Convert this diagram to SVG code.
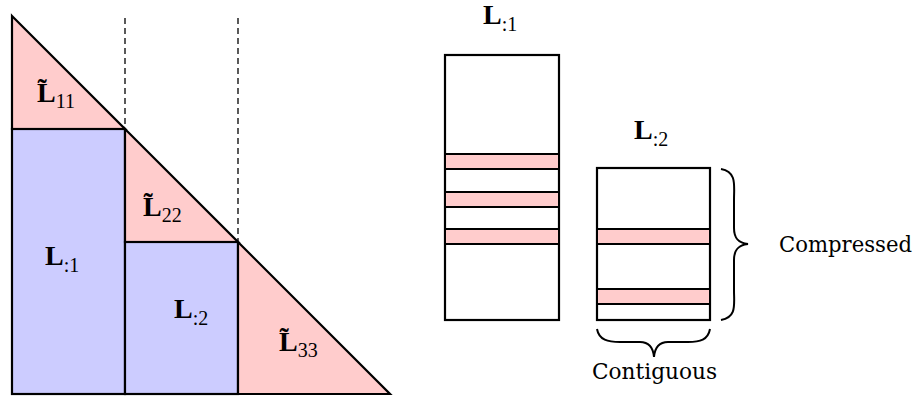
<svg xmlns="http://www.w3.org/2000/svg" width="919" height="398" viewBox="0 0 919 398">
<style>
.pk{fill:#ffcccc;stroke:#000;stroke-width:2.2;stroke-linejoin:miter}
.bl{fill:#ccccff;stroke:#000;stroke-width:2.2}
.wh{fill:#fff;stroke:#000;stroke-width:2.2}
.band{fill:#ffcccc;stroke:#000;stroke-width:2}
.dash{stroke:#000;stroke-width:1.3;stroke-dasharray:6,4;fill:none}
.brace{fill:none;stroke:#000;stroke-width:2}
.m{font-family:"Liberation Serif","DejaVu Serif",serif;font-weight:bold;font-size:28px;fill:#000}
.s{font-family:"Liberation Serif","DejaVu Serif",serif;font-size:20px;font-weight:normal}
.t{font-family:"DejaVu Serif","Liberation Serif",serif;font-size:22px;fill:#000}
</style>
<g id="guides">
<line class="dash" x1="125" y1="18" x2="125" y2="129"/>
<line class="dash" x1="238" y1="18" x2="238" y2="242"/>
</g>
<g id="triangle">
<polygon class="pk" points="12,16 125,129 12,129"/>
<rect class="bl" x="12" y="129" width="113" height="265"/>
<polygon class="pk" points="125,129 238,242 125,242"/>
<rect class="bl" x="125" y="242" width="113" height="152"/>
<polygon class="pk" points="238,242 390,394 238,394"/>
<text class="m" x="37" y="102">L̃<tspan class="s" dy="6">11</tspan></text>
<text class="m" x="143" y="216">L̃<tspan class="s" dy="6">22</tspan></text>
<text class="m" x="279" y="351">L̃<tspan class="s" dy="6">33</tspan></text>
<text class="m" x="45" y="265">L<tspan class="s" dy="7">:1</tspan></text>
<text class="m" x="174" y="318">L<tspan class="s" dy="7">:2</tspan></text>
</g>
<g id="col1">
<text class="m" x="483" y="24">L<tspan class="s" dy="7">:1</tspan></text>
<rect class="wh" x="445" y="55" width="114" height="265"/>
<rect class="band" x="445" y="154" width="114" height="15"/>
<rect class="band" x="445" y="192" width="114" height="15"/>
<rect class="band" x="445" y="229" width="114" height="15"/>
</g>
<g id="col2">
<text class="m" x="634" y="139">L<tspan class="s" dy="7">:2</tspan></text>
<rect class="wh" x="597" y="168" width="113" height="152"/>
<rect class="band" x="597" y="229" width="113" height="15"/>
<rect class="band" x="597" y="289" width="113" height="15"/>
</g>
<g id="braces">
<path class="brace" d="M721,169 C737,172 734,185 734,200 L734,228 C734,238 738,243 748,244 C738,245 734,250 734,260 L734,290 C734,305 737,317 721,320"/>
<path class="brace" d="M597,329 C599,340 608,342 620,342 L640,342 C648,342 653,346 654,357 C655,346 660,342 668,342 L688,342 C700,342 708,340 710,329"/>
<text class="t" x="779" y="252" textLength="133" lengthAdjust="spacingAndGlyphs">Compressed</text>
<text class="t" x="592" y="379" textLength="125" lengthAdjust="spacingAndGlyphs">Contiguous</text>
</g>
</svg>
